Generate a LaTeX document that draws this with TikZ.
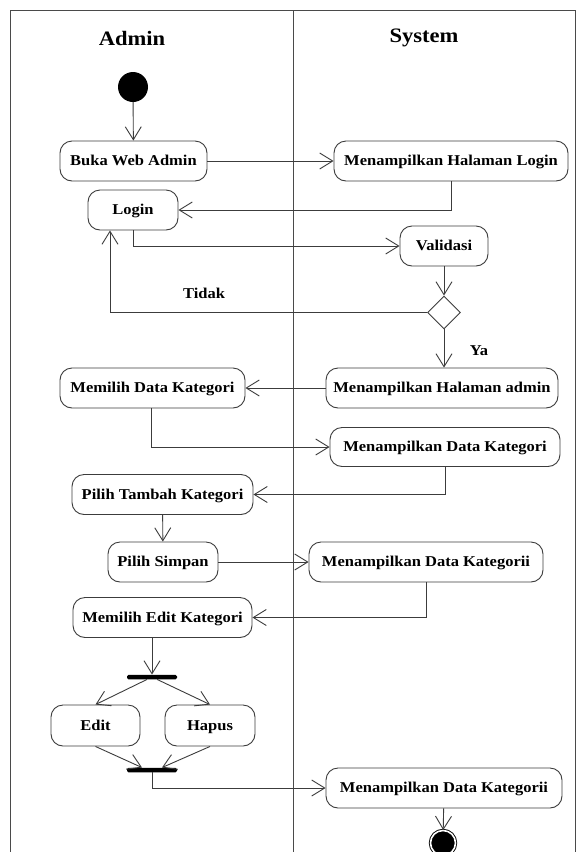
\documentclass[tikz,border=0pt]{standalone}
\usepackage{fontspec}
\setmainfont{Liberation Serif}[FakeStretch=1.1]
\usetikzlibrary{arrows.meta,shapes.geometric,calc}
\definecolor{linegray}{HTML}{3C3C3C}
\definecolor{framegray}{HTML}{4A4A4A}
\tikzset{
  act/.style={draw=linegray, line width=0.9pt, rounded corners=12pt, fill=white,
    minimum height=40pt, inner sep=0pt, align=center,
    text height=10pt, text depth=1pt,
    font=\fontsize{15}{18}\selectfont\bfseries},
  lane/.style={font=\fontsize{20.5}{24}\selectfont\bfseries},
  flow/.style={draw=linegray, line width=0.9pt,
    -{Straight Barb[length=13pt,width=16pt,line width=0.9pt]}},
  bar/.style={rectangle, fill=black, minimum width=50pt, minimum height=4.5pt,
    inner sep=0pt, rounded corners=1.5pt},
  guard/.style={font=\fontsize{15}{18}\selectfont\bfseries}
}
\begin{document}
\begin{tikzpicture}[x=1pt,y=-1pt]
\useasboundingbox (0,0) rectangle (581,852);
\fill[white] (0,0) rectangle (581,852);

% swimlanes
\draw[framegray, line width=1pt] (10,870) -- (10,10) -- (575,10) -- (575,870);
\draw[framegray, line width=1pt] (293,10) -- (293,870);
\node[lane] (tadmin) at (132,38) {Admin};
\node[lane] (tsystem) at (424,38) {System};

% initial node
\node[circle, fill=black, minimum size=30pt, inner sep=0pt] (start) at (133,87) {};

% activities
\node[act, minimum width=147pt] (buka)   at (133.5,161) {Buka Web Admin};
\node[act, minimum width=234pt] (mhl)    at (451,161)   {Menampilkan Halaman Login};
\node[act, minimum width=90pt]  (login)  at (133,210)   {Login};
\node[act, minimum width=88pt]  (val)    at (444,246)   {Validasi};
\node[diamond, draw=linegray, line width=0.9pt, fill=white, minimum size=33pt,
      inner sep=0pt] (dec) at (444,312.5) {};
\node[act, minimum width=232pt] (mha)    at (442,388)   {Menampilkan Halaman admin};
\node[act, minimum width=185pt] (mdk)    at (152.5,388) {Memilih Data Kategori};
\node[act, minimum width=230pt, minimum height=39pt] (mdkat) at (445,447) {Menampilkan Data Kategori};
\node[act, minimum width=181pt] (ptk)    at (162.5,494.5) {Pilih Tambah Kategori};
\node[act, minimum width=110pt] (simpan) at (163,562)   {Pilih Simpan};
\node[act, minimum width=234pt] (mdk2)   at (426,562)   {Menampilkan Data Kategorii};
\node[act, minimum width=179pt] (mek)    at (162.5,617.5) {Memilih Edit Kategori};
\node[bar] (fork) at (152,677) {};
\node[act, minimum width=89pt, minimum height=41pt] (edit)  at (95.5,725.5) {Edit};
\node[act, minimum width=90pt, minimum height=41pt] (hapus) at (210,725.5)  {Hapus};
\node[bar] (join) at (152,770) {};
\node[act, minimum width=236pt] (mdk3)   at (444,788)   {Menampilkan Data Kategorii};

% final node
\node[circle, fill=black, draw=black, line width=0.9pt, double=white,
      double distance=1.6pt, minimum size=25pt, inner sep=0pt] (end) at (443,843) {};

% guards
\node[guard] (ltidak) at (204,293) {Tidak};
\node[guard] (lya)    at (479,351) {Ya};

% control flows
\draw[flow] (start) -- (buka);
\draw[flow] (buka) -- (mhl);
\draw[flow] (mhl.south) |- (login.east);
\draw[flow] (login.south) |- (val.west);
\draw[flow] (val) -- (dec);
\draw[flow] (dec.west) -| ($(login.south)+(-23,0)$);
\draw[flow] (dec) -- (mha.north -| dec);
\draw[flow] (mha) -- (mdk);
\draw[flow] ($(mdk.south)+(-1.5,0)$) |- (mdkat.west);
\draw[flow] (mdkat.south) |- (ptk.east);
\draw[flow] (ptk) -- (simpan);
\draw[flow] (simpan) -- (mdk2);
\draw[flow] (mdk2.south) |- (mek.east);
\draw[flow] (mek.south -| fork) -- (fork);
\draw[flow] (fork) -- (edit.north);
\draw[flow] (fork) -- (hapus.north);
\draw[flow] (edit.south) -- ($(join.north)+(-10,0)$);
\draw[flow] (hapus.south) -- ($(join.north)+(10,0)$);
\draw[flow] (join.south) |- (mdk3.west);
\draw[flow] (mdk3) -- (end);
\end{tikzpicture}
\end{document}
